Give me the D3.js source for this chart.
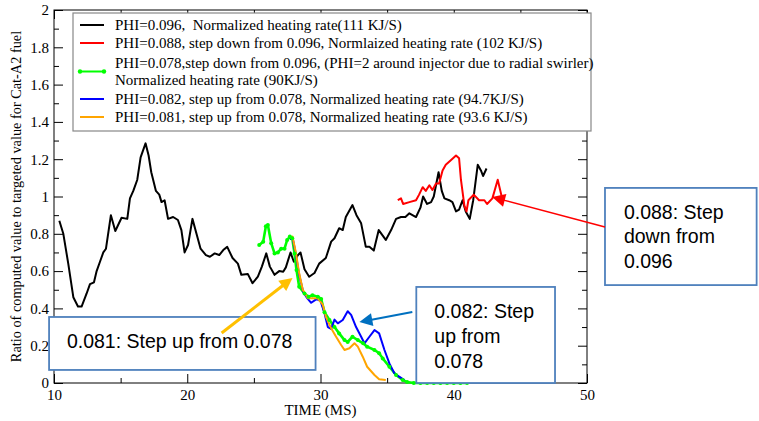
<!DOCTYPE html>
<html>
<head>
<meta charset="utf-8">
<script src="https://cdn.jsdelivr.net/npm/d3@7"></script>
<style>
  body { margin: 0; background: #fff; }
  svg { display: block; }
</style>
</head>
<body>
<div id="chart"></div>
<script>
// time (ms), ratio of computed to targeted value
const phi096 = [
  [10.4,0.87],[10.7,0.80],[11.07,0.64],[11.45,0.46],[11.8,0.41],[12.07,0.41],[12.45,0.48],[12.7,0.53],
  [13.0,0.54],[13.2,0.60],[13.45,0.65],[13.7,0.70],[13.9,0.72],[14.27,0.90],[14.6,0.815],[15.07,0.886],
  [15.5,0.88],[15.7,0.99],[15.95,1.03],[16.25,1.09],[16.5,1.21],[16.87,1.285],[17.1,1.22],[17.3,1.13],
  [17.65,1.03],[17.9,1.01],[18.07,0.97],[18.3,0.98],[18.56,0.88],[18.94,0.89],[19.3,0.874],[19.56,0.82],
  [19.8,0.70],[20.06,0.74],[20.39,0.88],[20.75,0.785],[21.0,0.72],[21.4,0.686],[21.7,0.677],[22.06,0.695],
  [22.4,0.686],[22.7,0.713],[23.0,0.73],[23.4,0.67],[23.8,0.64],[24.06,0.58],[24.55,0.584],[24.9,0.535],
  [25.3,0.57],[25.6,0.624],[25.93,0.695],[26.2,0.624],[26.55,0.58],[26.9,0.60],[27.2,0.597],[27.4,0.62],
  [27.75,0.70],[28.0,0.65],[28.3,0.685],[28.5,0.70],[28.8,0.61],[29.15,0.57],[29.55,0.59],[29.9,0.64],
  [30.4,0.67],[30.8,0.758],[31.05,0.776],[31.4,0.83],[31.67,0.82],[31.9,0.89],[32.4,0.954],[32.7,0.90],
  [33.05,0.856],[33.4,0.73],[33.67,0.73],[34.0,0.71],[34.37,0.82],[34.67,0.79],[34.9,0.767],[35.3,0.82],
  [35.67,0.88],[36.04,0.89],[36.37,0.89],[36.67,0.91],[37.17,0.89],[37.5,0.94],[37.7,1.0],[38.0,0.96],
  [38.3,0.97],[38.5,1.0],[38.86,1.13],[39.1,1.03],[39.3,0.99],[39.66,0.98],[39.9,0.97],[40.17,0.92],
  [40.4,0.93],[40.66,0.98],[40.9,0.92],[41.2,0.88],[41.46,0.98],[41.8,1.17],[42.04,1.14],[42.2,1.11],
  [42.46,1.15]
];
const phi088 = [
  [35.8,0.98],[36.04,0.99],[36.2,0.96],[36.67,0.97],[37.17,0.98],[37.4,1.01],[37.67,1.05],[37.9,1.03],
  [38.17,1.06],[38.4,1.035],[38.67,1.07],[38.9,1.07],[39.16,1.14],[39.4,1.17],[39.8,1.196],[40.17,1.22],
  [40.4,1.205],[40.54,1.09],[40.8,0.95],[40.96,0.92],[41.1,0.98],[41.5,1.01],[41.9,0.98],[42.3,0.98],
  [42.5,0.96],[42.9,0.99],[43.3,1.09],[43.5,1.03],[43.66,0.98]
];
const phi078 = [
  [25.4,0.74],[25.7,0.758],[25.9,0.84],[26.05,0.847],[26.3,0.75],[26.55,0.695],[26.8,0.70],[27.05,0.72],
  [27.3,0.72],[27.5,0.767],[27.7,0.785],[27.88,0.776],[28.05,0.695],[28.2,0.606],[28.4,0.516],[28.8,0.48],
  [29.1,0.463],[29.4,0.47],[29.8,0.463],[30.05,0.45],[30.3,0.38],[30.67,0.338],[31.05,0.30],[31.4,0.266],
  [31.8,0.23],[32.04,0.22],[32.4,0.248],[32.8,0.23],[33.2,0.213],[33.5,0.195],[34.05,0.177],[34.4,0.16],
  [34.67,0.132],[35.17,0.087],[35.67,0.043],[36.17,0.016],[36.5,0.005],[37.0,0],[37.5,0],[38.0,0],
  [38.5,0],[39.0,0],[39.5,0],[40.0,0],[40.5,0],[41.0,0]
];
const phi082 = [
  [27.7,0.77],[27.9,0.78],[28.15,0.69],[28.4,0.58],[28.7,0.49],[29.0,0.455],[29.3,0.43],[29.7,0.45],
  [30.0,0.44],[30.3,0.374],[30.55,0.30],[30.8,0.29],[31.05,0.34],[31.3,0.32],[31.67,0.338],[32.04,0.385],
  [32.3,0.365],[32.67,0.30],[33.05,0.248],[33.3,0.213],[33.67,0.248],[34.05,0.284],[34.4,0.266],[34.8,0.177],
  [35.17,0.105],[35.54,0.052],[35.9,0.034],[36.3,0.016]
];
const phi081 = [
  [27.7,0.776],[27.9,0.785],[28.15,0.70],[28.4,0.588],[28.67,0.50],[29.05,0.454],[29.4,0.454],[29.8,0.454],
  [30.17,0.42],[30.4,0.356],[30.8,0.293],[31.17,0.248],[31.55,0.204],[31.8,0.177],[32.17,0.186],[32.55,0.213],
  [32.8,0.195],[33.17,0.141],[33.5,0.087],[34.05,0.043],[34.4,0.02],[34.9,0.016]
];

const legendLabels = [
  ['PHI=0.096,  Normalized heating rate(111 KJ/S)'],
  ['PHI=0.088, step down from 0.096, Normlaized heating rate (102 KJ/S)'],
  ['PHI=0.078,step down from 0.096, (PHI=2 around injector due to radial swirler)', 'Normalized heating rate (90KJ/S)'],
  ['PHI=0.082, step up from 0.078, Normalized heating rate (94.7KJ/S)'],
  ['PHI=0.081, step up from 0.078, Normalized heating rate (93.6 KJ/S)']
];
const seriesColors = ['#000000', '#ff0000', '#00ff00', '#0000ff', '#ffa500'];

const xMajor = [10, 20, 30, 40, 50];
const xMinor = [15, 25, 35, 45];
const yMajor = [0, 0.2, 0.4, 0.6, 0.8, 1, 1.2, 1.4, 1.6, 1.8, 2];
const yMinor = [0.1, 0.3, 0.5, 0.7, 0.9, 1.1, 1.3, 1.5, 1.7, 1.9];

// callout boxes, in data units
const notes = [
  { box: [9.63, 29.63, 0.354, 0.07], tx: 10.97, lines: ['0.081: Step up from 0.078'], ty: [0.188],
    arrow: [22.58, 0.268, 27.9, 0.563], color: '#ffc000', w: 3 },
  { box: [37.19, 47.6, 0.515, 0.0], tx: 38.54, lines: ['0.082: Step', 'up from', '0.078'], ty: [0.349, 0.214, 0.08],
    arrow: [36.89, 0.381, 32.92, 0.327], color: '#0070c0', w: 2 },
  { box: [51.35, 62.73, 1.046, 0.525], tx: 52.77, lines: ['0.088: Step', 'down from', '0.096'], ty: [0.882, 0.748, 0.614],
    arrow: [51.35, 0.836, 42.88, 0.997], color: '#ff0000', w: 1.5 }
];

const W = 759, H = 421;
const margin = { left: 54, right: 172, top: 10, bottom: 38 };

const svg = d3.select('#chart').append('svg')
  .attr('width', W)
  .attr('height', H);

const x = d3.scaleLinear().domain([10, 50]).range([margin.left, W - margin.right]);
const y = d3.scaleLinear().domain([0, 2]).range([H - margin.bottom, margin.top]);

const serif = 'Liberation Serif, Times New Roman, serif';

function styleAxis(g) {
  g.select('.domain').remove();
  g.selectAll('line').attr('stroke', '#000');
  g.selectAll('text').attr('font-family', serif).attr('font-size', 15).attr('fill', '#000');
}

const fmt = d => String(+d.toFixed(1));

// major and minor ticks on all four sides, pointing inward
svg.append('g').attr('transform', `translate(0,${y(0)})`)
  .call(d3.axisBottom(x).tickValues(xMajor).tickSize(-9).tickPadding(6).tickFormat(fmt)).call(styleAxis);
svg.append('g').attr('transform', `translate(0,${y(0)})`)
  .call(d3.axisBottom(x).tickValues(xMinor).tickSize(-5).tickFormat('')).call(styleAxis);
svg.append('g').attr('transform', `translate(0,${y(2)})`)
  .call(d3.axisTop(x).tickValues(xMajor).tickSize(-9).tickFormat('')).call(styleAxis);
svg.append('g').attr('transform', `translate(0,${y(2)})`)
  .call(d3.axisTop(x).tickValues(xMinor).tickSize(-5).tickFormat('')).call(styleAxis);
svg.append('g').attr('transform', `translate(${x(10)},0)`)
  .call(d3.axisLeft(y).tickValues(yMajor).tickSize(-9).tickPadding(5).tickFormat(fmt)).call(styleAxis);
svg.append('g').attr('transform', `translate(${x(10)},0)`)
  .call(d3.axisLeft(y).tickValues(yMinor).tickSize(-5).tickFormat('')).call(styleAxis);
svg.append('g').attr('transform', `translate(${x(50)},0)`)
  .call(d3.axisRight(y).tickValues(yMajor).tickSize(-9).tickFormat('')).call(styleAxis);
svg.append('g').attr('transform', `translate(${x(50)},0)`)
  .call(d3.axisRight(y).tickValues(yMinor).tickSize(-5).tickFormat('')).call(styleAxis);

svg.append('rect')
  .attr('x', x(10)).attr('y', y(2))
  .attr('width', x(50) - x(10)).attr('height', y(0) - y(2))
  .attr('fill', 'none').attr('stroke', '#000').attr('stroke-width', 1);

// axis titles
svg.append('text')
  .attr('x', (x(10) + x(50)) / 2).attr('y', H - 6)
  .attr('text-anchor', 'middle')
  .attr('font-family', serif).attr('font-size', 15)
  .text('TIME (MS)');
svg.append('text')
  .attr('transform', `translate(21,${(y(0) + y(2)) / 2}) rotate(-90)`)
  .attr('text-anchor', 'middle')
  .attr('font-family', serif).attr('font-size', 14.3)
  .text('Ratio of computed value to targeted value for Cat-A2 fuel');

// series
const line = d3.line().x(d => x(d[0])).y(d => y(d[1]));
const allSeries = [phi096, phi088, phi078, phi082, phi081];
const widths = [2, 2, 2.6, 2, 2];

allSeries.forEach((s, i) => {
  svg.append('path')
    .datum(s)
    .attr('d', line)
    .attr('fill', 'none')
    .attr('stroke', seriesColors[i])
    .attr('stroke-width', widths[i])
    .attr('stroke-linejoin', 'round');
});

svg.append('g').selectAll('circle')
  .data(phi078)
  .enter().append('circle')
  .attr('cx', d => x(d[0]))
  .attr('cy', d => y(d[1]))
  .attr('r', 2)
  .attr('fill', seriesColors[2]);

// legend
const leg = svg.append('g');
leg.append('rect')
  .attr('x', 73).attr('y', 13).attr('width', 518).attr('height', 118)
  .attr('fill', '#fff').attr('stroke', '#888').attr('stroke-width', 1.2);

const rowY = [25, 43, 63, 99, 117];
legendLabels.forEach((lines, i) => {
  const sy = lines.length > 1 ? rowY[i] + 8.5 : rowY[i];
  leg.append('line')
    .attr('x1', 80).attr('x2', 104).attr('y1', sy).attr('y2', sy)
    .attr('stroke', seriesColors[i]).attr('stroke-width', 2);
  if (i === 2) {
    [80, 104].forEach(cx => leg.append('circle')
      .attr('cx', cx).attr('cy', sy).attr('r', 2.2).attr('fill', seriesColors[i]));
  }
  lines.forEach((t, j) => {
    leg.append('text')
      .attr('x', 115).attr('y', rowY[i] + j * 17)
      .attr('dy', '0.35em')
      .attr('font-family', serif).attr('font-size', 15)
      .style('white-space', 'pre')
      .text(t);
  });
});

// callouts
const sans = 'Liberation Sans, Arial, sans-serif';
function arrow(x1, y1, x2, y2, color, w) {
  const len = Math.hypot(x2 - x1, y2 - y1);
  const ux = (x2 - x1) / len, uy = (y2 - y1) / len;
  const hl = 13, hw = 6.5;
  const bx = x2 - ux * hl, by = y2 - uy * hl;
  svg.append('line')
    .attr('x1', x1).attr('y1', y1).attr('x2', bx + ux * 2).attr('y2', by + uy * 2)
    .attr('stroke', color).attr('stroke-width', w);
  svg.append('path')
    .attr('d', `M${x2},${y2}L${bx - uy * hw},${by + ux * hw}L${bx + uy * hw},${by - ux * hw}Z`)
    .attr('fill', color);
}

notes.forEach(n => {
  const [t0, t1, v0, v1] = n.box;
  svg.append('rect')
    .attr('x', x(t0)).attr('y', y(v0))
    .attr('width', x(t1) - x(t0)).attr('height', y(v1) - y(v0))
    .attr('fill', '#fff').attr('stroke', '#4f81bd').attr('stroke-width', 1.8);
  n.lines.forEach((t, j) => {
    svg.append('text')
      .attr('x', x(n.tx)).attr('y', y(n.ty[j]))
      .attr('font-family', sans).attr('font-size', 19.5)
      .attr('fill', '#000')
      .text(t);
  });
  const [a0, b0, a1, b1] = n.arrow;
  arrow(x(a0), y(b0), x(a1), y(b1), n.color, n.w);
});
</script>
</body>
</html>
